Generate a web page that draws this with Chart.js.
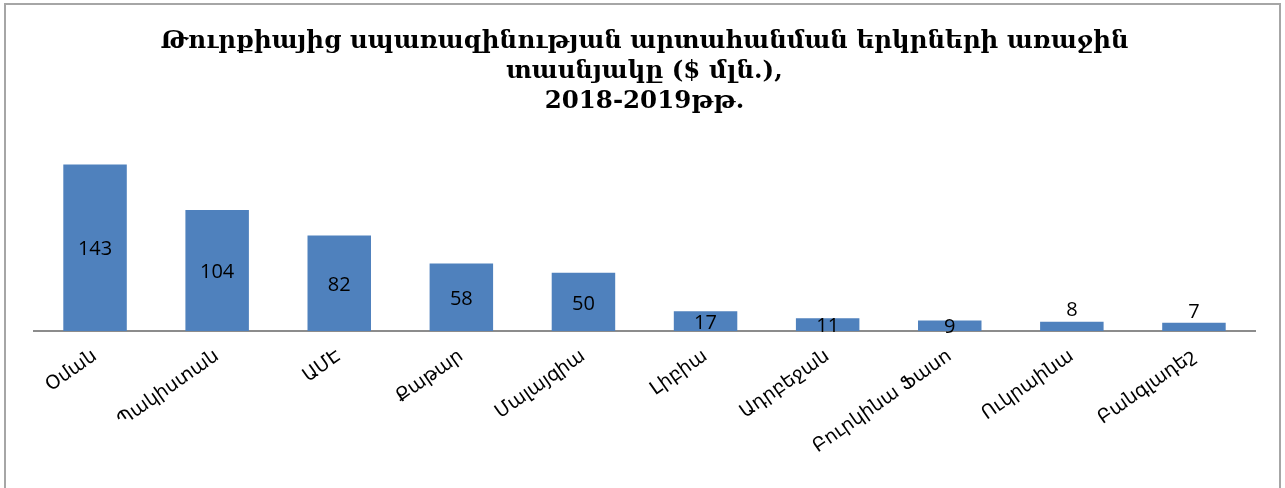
<!DOCTYPE html>
<html>
<head>
<meta charset="utf-8">
<script src="https://cdn.jsdelivr.net/npm/chart.js@4"></script>
<style>
  html, body { margin: 0; padding: 0; background: #fff; overflow: hidden; }
  #wrap { position: relative; width: 1285px; height: 488px; }
  #frame { position: absolute; left: 4px; top: 3px; width: 1277px; height: 500px; border: 2px solid #a6a6a6; box-sizing: border-box; }
</style>
</head>
<body>
<div id="wrap">
  <div id="frame"></div>
  <canvas id="chart"></canvas>
</div>
<script>
// երկրներ
var countries = ["Օման", "Պակիստան", "ԱՄԷ", "Քաթար", "Մալայզիա", "Լիբիա", "Ադրբեջան", "Բուրկինա Ֆասո", "Ուկրաինա", "Բանգլադեշ"];
// $ մլն.
var exports = [143, 104, 82, 58, 50, 17, 11, 9, 8, 7];
var yMax = 160;
var titleLines = [
  "Թուրքիայից սպառազինության արտահանման երկրների առաջին",
  "տասնյակը ($ մլն.),",
  "2018-2019թթ."
];

// արժեքները սյուների վրա
var barLabels = {
  id: 'barLabels',
  afterDatasetsDraw: function(chart) {
    var ctx = chart.ctx;
    var meta = chart.getDatasetMeta(0);
    ctx.save();
    ctx.font = '20px "Open Sans", "DejaVu Sans", sans-serif';
    ctx.fillStyle = '#000';
    ctx.textAlign = 'center';
    ctx.textBaseline = 'middle';
    meta.data.forEach(function(bar, i) {
      var v = exports[i];
      var y = v < 9 ? bar.y - 11 : (bar.y + bar.base) / 2 + 2;
      ctx.fillText(String(v), bar.x, y);
    });
    ctx.restore();
  }
};

var chartEl = document.getElementById("chart");
var chart = new Chart(chartEl.getContext('2d'), {
  type: 'bar',
  data: {
    labels: countries,
    datasets: [{
      data: exports,
      backgroundColor: '#4f81bd',
      borderWidth: 0,
      barPercentage: 0.52,
      categoryPercentage: 1
    }]
  },
  options: {
    responsive: true,
    maintainAspectRatio: false,
    animation: false,
    layout: { padding: { left: 34, right: 30, bottom: 0 } },
    plugins: {
      legend: { display: false },
      tooltip: { enabled: false },
      title: {
        display: true,
        text: titleLines,
        color: '#000',
        font: { family: '"DejaVu Serif", serif', size: 24.5, weight: 'bold', lineHeight: 1.22 },
        padding: { top: 27, bottom: 28 }
      }
    },
    scales: {
      x: {
        grid: { display: false },
        border: { display: true, color: '#8c8c8c', width: 2 },
        ticks: {
          color: '#000',
          maxRotation: 35,
          minRotation: 35,
          autoSkip: false,
          padding: 6,
          font: { family: '"DejaVu Sans", sans-serif', size: 19 }
        },
        afterFit: function(scale) { scale.height = 157; }
      },
      y: {
        display: false,
        min: 0,
        max: yMax
      }
    }
  },
  plugins: [barLabels]
});
</script>
</body>
</html>
